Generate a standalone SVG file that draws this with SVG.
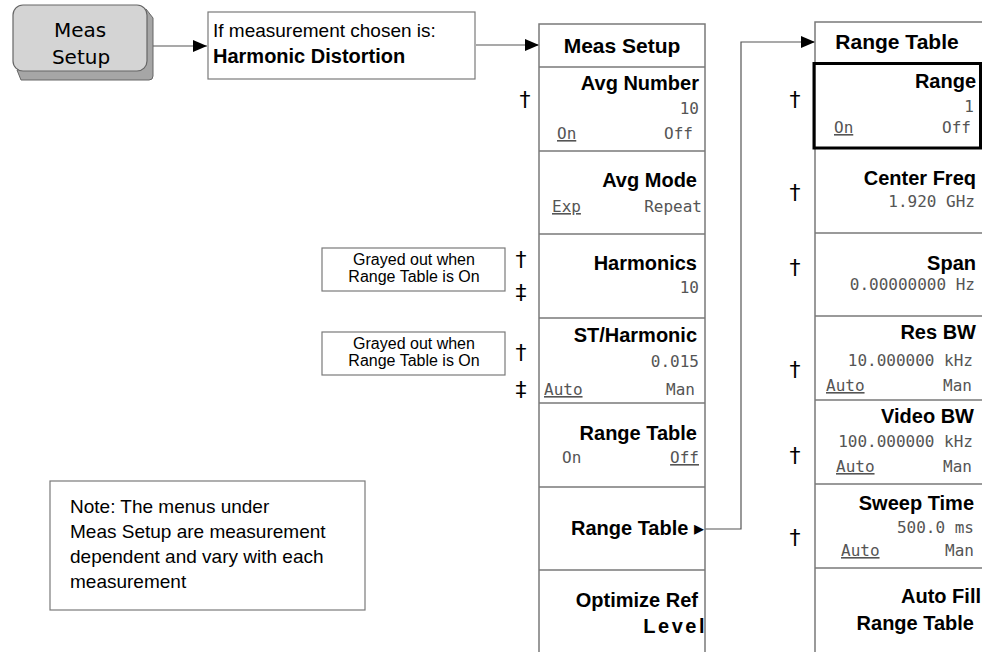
<svg xmlns="http://www.w3.org/2000/svg" width="982" height="652" viewBox="0 0 982 652">
<style>
.bg{fill:#fff}
.menu{fill:none;stroke:#7a7a7a;stroke-width:1.5}
.box{fill:#fff;stroke:#7a7a7a;stroke-width:1.2}
.conn{fill:none;stroke:#555;stroke-width:1.2}
.lbl{font-family:"Liberation Sans",Arial,sans-serif;font-weight:bold;font-size:20px;fill:#000;text-anchor:end}
.ttl{font-family:"Liberation Sans",Arial,sans-serif;font-weight:bold;font-size:21px;fill:#000;text-anchor:middle}
.val{font-family:"DejaVu Sans Mono","Liberation Mono",monospace;font-size:16px;fill:#555;text-anchor:end}
.opt{font-family:"DejaVu Sans Mono","Liberation Mono",monospace;font-size:16px;fill:#555}
.u{text-decoration:underline}
.dag{font-family:"DejaVu Sans",sans-serif;font-size:22px;fill:#000;text-anchor:middle}
.note{font-family:"Liberation Sans",Arial,sans-serif;font-size:19px;fill:#000}
.gray{font-family:"Liberation Sans",Arial,sans-serif;font-size:16px;fill:#000;text-anchor:middle}
</style>
<defs>
<marker id="ah" markerUnits="userSpaceOnUse" markerWidth="14" markerHeight="12" refX="14" refY="6" orient="auto">
<path d="M0,0 L14,6 L0,12 Z" fill="#000"/>
</marker>
</defs>
<rect class="bg" x="0" y="0" width="982" height="652"/>

<g id="connectors">
<path class="conn" d="M148,46 H207" marker-end="url(#ah)"/>
<path class="conn" d="M476,45 H539" marker-end="url(#ah)"/>
<path class="conn" d="M705,529 H741 V42 H815" marker-end="url(#ah)"/>
</g>

<g id="meas-setup-key">
<path d="M17,70 L21,80 H149 Q153,80 153,76 V18 L146,9 Z" fill="#a6a6a6" stroke="#666" stroke-width="1"/>
<rect x="13" y="5" width="134" height="66" rx="10" ry="10" fill="#d4d4d4" stroke="#666" stroke-width="1.2"/>
<text x="80" y="37" font-family="DejaVu Sans,sans-serif" font-size="20" text-anchor="middle" fill="#000">Meas</text>
<text x="81" y="64" font-family="DejaVu Sans,sans-serif" font-size="20" text-anchor="middle" fill="#000">Setup</text>
</g>

<g id="condition-box">
<rect class="box" x="208" y="12" width="267" height="67"/>
<text x="213" y="37" font-family="Liberation Sans,Arial,sans-serif" font-size="19" fill="#000">If measurement chosen is:</text>
<text x="213" y="63" font-family="Liberation Sans,Arial,sans-serif" font-size="20" font-weight="bold" fill="#000">Harmonic Distortion</text>
</g>

<g id="meas-setup-menu">
<path class="menu" d="M539,652 V24 H705 V652 M539,67 H705 M539,151 H705 M539,234 H705 M539,318 H705 M539,403 H705 M539,487 H705 M539,570 H705"/>
<text class="ttl" x="622" y="53">Meas Setup</text>
<text class="lbl" x="699" y="90">Avg Number</text>
<text class="val" x="699" y="114">10</text>
<text class="opt u" x="557" y="139">On</text>
<text class="val" x="693" y="139">Off</text>
<text class="lbl" x="697" y="187">Avg Mode</text>
<text class="opt u" x="552" y="212">Exp</text>
<text class="val" x="702" y="212">Repeat</text>
<text class="lbl" x="697" y="270">Harmonics</text>
<text class="val" x="699" y="293">10</text>
<text class="lbl" x="697" y="342">ST/Harmonic</text>
<text class="val" x="699" y="367">0.015</text>
<text class="opt u" x="544" y="395">Auto</text>
<text class="val" x="695" y="395">Man</text>
<text class="lbl" x="697" y="440">Range Table</text>
<text class="opt" x="562" y="463">On</text>
<text class="val u" x="699" y="463">Off</text>
<text class="lbl" x="704" y="535">Range Table <tspan font-family="DejaVu Sans,sans-serif" font-size="20">▸</tspan></text>
<text class="lbl" x="698" y="607">Optimize Ref</text>
<text class="lbl" x="707" y="633" font-size="21" letter-spacing="2.5">Level</text>
</g>

<g id="range-table-menu">
<path class="menu" d="M815,652 V22 H982 M815,63 H982 M815,233 H982 M815,316 H982 M815,400 H982 M815,484 H982 M815,568 H982"/>
<rect x="814" y="63.5" width="166.5" height="84.5" fill="none" stroke="#000" stroke-width="3"/>
<text class="ttl" x="897" y="49">Range Table</text>
<text class="lbl" x="976" y="88">Range</text>
<text class="val" x="974" y="112">1</text>
<text class="opt u" x="834" y="133">On</text>
<text class="val" x="971" y="133">Off</text>
<text class="lbl" x="976" y="185">Center Freq</text>
<text class="val" x="975" y="207">1.920 GHz</text>
<text class="lbl" x="976" y="270">Span</text>
<text class="val" x="975" y="290">0.00000000 Hz</text>
<text class="lbl" x="976" y="339">Res BW</text>
<text class="val" x="973" y="366">10.000000 kHz</text>
<text class="opt u" x="826" y="391">Auto</text>
<text class="val" x="972" y="391">Man</text>
<text class="lbl" x="974" y="423" font-size="18">Video BW</text>
<text class="val" x="973" y="447">100.000000 kHz</text>
<text class="opt u" x="836" y="472">Auto</text>
<text class="val" x="972" y="472">Man</text>
<text class="lbl" x="974" y="510" font-size="18">Sweep Time</text>
<text class="val" x="974" y="533">500.0 ms</text>
<text class="opt u" x="841" y="556">Auto</text>
<text class="val" x="974" y="556">Man</text>
<text class="lbl" x="981" y="603" font-size="21">Auto Fill</text>
<text class="lbl" x="974" y="630" font-size="21">Range Table</text>
</g>

<g id="daggers">
<text class="dag" x="525" y="107">†</text>
<text class="dag" x="521" y="267">†</text>
<text class="dag" x="521" y="300">‡</text>
<text class="dag" x="521" y="360">†</text>
<text class="dag" x="521" y="397">‡</text>
<text class="dag" x="795" y="107">†</text>
<text class="dag" x="795" y="200">†</text>
<text class="dag" x="795" y="275">†</text>
<text class="dag" x="795" y="377">†</text>
<text class="dag" x="795" y="463">†</text>
<text class="dag" x="795" y="545">†</text>
</g>

<g id="grayed-note-1">
<rect class="box" x="322" y="248" width="183" height="43"/>
<text class="gray" x="414" y="265">Grayed out when</text>
<text class="gray" x="414" y="282">Range Table is On</text>
</g>

<g id="grayed-note-2">
<rect class="box" x="322" y="332" width="183" height="43"/>
<text class="gray" x="414" y="349">Grayed out when</text>
<text class="gray" x="414" y="366">Range Table is On</text>
</g>

<g id="note-box">
<rect class="box" x="50" y="481" width="315" height="129"/>
<text class="note" x="70" y="513">Note: The menus under</text>
<text class="note" x="70" y="538">Meas Setup are measurement</text>
<text class="note" x="70" y="563">dependent and vary with each</text>
<text class="note" x="70" y="588">measurement</text>
</g>
</svg>
